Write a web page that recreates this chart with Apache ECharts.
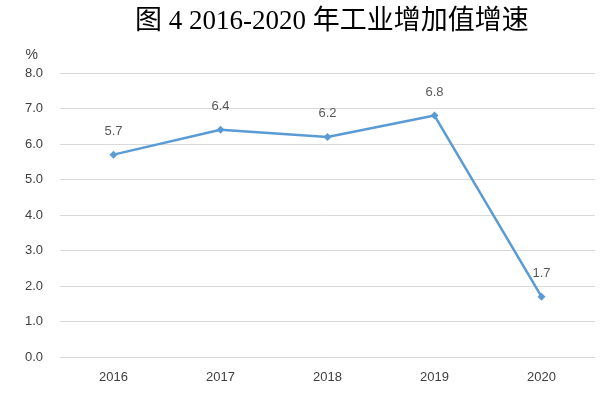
<!DOCTYPE html>
<html><head><meta charset="utf-8">
<script src="https://cdn.jsdelivr.net/npm/echarts@6/dist/echarts.min.js"></script>
<style>html,body{margin:0;padding:0;background:#fff;}#c{width:613px;height:393px;}</style>
</head><body><div id="c"></div>
<script>
const categories = ['2016','2017','2018','2019','2020'];
const growth = [5.7, 6.4, 6.2, 6.8, 1.7];
const titleText = '图 4 2016-2020 年工业增加值增速';
const unitLabel = '%';

const chart = echarts.init(document.getElementById('c'));
chart.setOption({
  animation: false,
  backgroundColor: '#fff',
  title: {
    text: titleText, left: 130, top: 3,
    textStyle: { fontFamily: '"Liberation Serif", "Noto Sans CJK SC", serif', fontSize: 27, fontWeight: 'normal', color: '#000' }
  },
  grid: { left: 60, right: 18, top: 73, bottom: 36 },
  xAxis: {
    type: 'category', data: categories, boundaryGap: true,
    axisLine: { show: true, lineStyle: { color: '#d9d9d9' } },
    axisTick: { show: false },
    axisLabel: { color: '#404040', fontSize: 13, fontFamily: '"Liberation Sans", sans-serif', margin: 14 }
  },
  yAxis: {
    type: 'value', min: 0, max: 8, interval: 1,
    name: unitLabel, nameLocation: 'end', nameGap: 11,
    nameTextStyle: { color: '#404040', fontSize: 14, fontFamily: '"Liberation Sans", sans-serif', align: 'right', padding: [0, 22, 0, 0] },
    axisLine: { show: false }, axisTick: { show: false },
    axisLabel: { color: '#404040', fontSize: 13, fontFamily: '"Liberation Sans", sans-serif', margin: 17, formatter: v => v.toFixed(1) },
    splitLine: { lineStyle: { color: '#d9d9d9', width: 1 } }
  },
  series: [{
    type: 'line', data: growth,
    symbol: 'diamond', symbolSize: 8,
    lineStyle: { color: '#5b9bd5', width: 2.5 },
    itemStyle: { color: '#5b9bd5' },
    label: { show: true, position: 'top', distance: 13, color: '#595959', fontSize: 13, fontFamily: '"Liberation Sans", sans-serif', formatter: p => p.value.toFixed(1) }
  }]
});
</script></body></html>
